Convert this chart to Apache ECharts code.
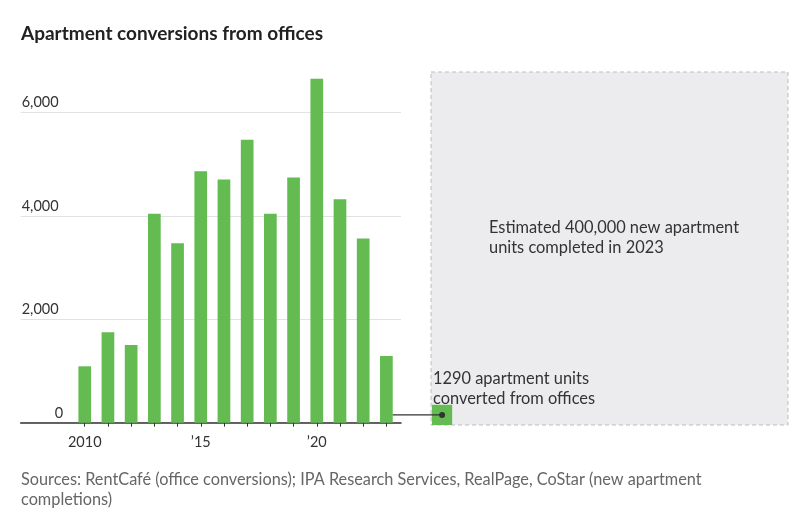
<!DOCTYPE html>
<html>
<head>
<meta charset="utf-8">
<script src="https://cdn.jsdelivr.net/npm/echarts@6/dist/echarts.min.js"></script>
<style>html,body{margin:0;padding:0;background:#fff}#c{width:809px;height:519px}</style>
</head>
<body>
<div id="c"></div>
<script>
var years = [2010,2011,2012,2013,2014,2015,2016,2017,2018,2019,2020,2021,2022,2023];
var conversions = [1090,1750,1500,4040,3470,4860,4700,5470,4040,4740,6650,4320,3560,1290];
var yTicks = [0,2000,4000,6000];
var xLabelYears = [2010,2015,2020];
var newUnits2023 = 400000;
var converted2023 = 1290;

var FONT = 'Lato';
var chart = echarts.init(document.getElementById('c'));
var barW = 12.7;

chart.setOption({
  animation: false,
  textStyle: {fontFamily: FONT},
  title: [
    {text: 'Apartment conversions from offices', left: 21, top: 24, padding: 0,
     textStyle: {fontFamily: FONT, fontSize: 19, fontWeight: 'bold', color: '#222'}},
    {text: 'Sources: RentCafé (office conversions); IPA Research Services, RealPage, CoStar (new apartment\ncompletions)',
     left: 21, top: 470, padding: 0,
     textStyle: {fontFamily: FONT, fontSize: 16.3, fontWeight: 'normal', color: '#666', lineHeight: 20}}
  ],
  grid: [
    {left: 20.7, right: 408, top: 112.3, bottom: 96.3},
    {left: 431, top: 72, width: 357, height: 353}
  ],
  xAxis: [
    {type: 'value', gridIndex: 0, min: 2007.24, max: 2023.63,
     axisLine: {show: true, lineStyle: {color: '#333', width: 1.5}},
     axisTick: {show: true, length: 4, customValues: years, lineStyle: {color: '#333'}},
     axisLabel: {customValues: xLabelYears, color: '#333', fontSize: 14.5, margin: 12,
       formatter: function (v) { return v === 2010 ? '2010' : '\u2019' + String(v).slice(2); }},
     splitLine: {show: false}},
    {type: 'value', gridIndex: 1, min: 0, max: 1, show: false}
  ],
  yAxis: [
    {type: 'value', gridIndex: 0, min: 0, max: 6000, interval: 2000,
     axisLine: {show: false}, axisTick: {show: false},
     axisLabel: {inside: true, margin: 1, color: '#333', fontSize: 14.5, verticalAlign: 'bottom',
       padding: [0, 0, 2, 0],
       formatter: function (v) { return v === 0 ? '{z|0}' : echarts.format.addCommas(v); },
       rich: {z: {padding: [0, 0, 0, 33], fontSize: 14.5, color: '#333'}}},
     splitLine: {show: true, lineStyle: {color: '#e2e2e2', width: 1}}},
    {type: 'value', gridIndex: 1, min: 0, max: 1, show: false}
  ],
  series: [
    {type: 'bar', xAxisIndex: 0, yAxisIndex: 0, barWidth: barW, clip: false,
     itemStyle: {color: '#63bb52'},
     data: years.map(function (y, i) { return [y, conversions[i]]; })},
    {type: 'custom', xAxisIndex: 1, yAxisIndex: 1, z: 1,
     data: [[newUnits2023, converted2023]],
     renderItem: function (params, api) {
       var tl = api.coord([0, 1]);
       var br = api.coord([1, 0]);
       var w = br[0] - tl[0], h = br[1] - tl[1];
       var side = Math.sqrt(w * h * api.value(1) / api.value(0));
       return {type: 'group', children: [
         {type: 'rect', shape: {x: tl[0], y: tl[1], width: w, height: h},
          style: {fill: '#ececee', stroke: '#bdbdbd', lineWidth: 1, lineDash: [4, 3]}},
         {type: 'rect', shape: {x: tl[0] + 1, y: br[1] - side, width: side, height: side},
          style: {fill: '#63bb52'}}
       ]};
     }}
  ]
});

// connector from the 2023 bar to the square (positions from the library's scales)
var last = years.length - 1;
var barPt = chart.convertToPixel({gridIndex: 0}, [years[last], 0]);
var boxBL = chart.convertToPixel({gridIndex: 1}, [0, 0]);
var boxTR = chart.convertToPixel({gridIndex: 1}, [1, 1]);
var side = Math.sqrt((boxTR[0] - boxBL[0]) * (boxBL[1] - boxTR[1]) * converted2023 / newUnits2023);
var cx = boxBL[0] + 1 + side / 2, cy = boxBL[1] - side / 2;
chart.setOption({
  graphic: [
    {type: 'line', shape: {x1: barPt[0] + barW / 2, y1: cy, x2: cx, y2: cy},
     style: {stroke: '#333', lineWidth: 1.3}, z: 10},
    {type: 'circle', shape: {cx: cx, cy: cy, r: 3}, style: {fill: '#333'}, z: 10},
    {type: 'text', left: 489, top: 218,
     style: {text: 'Estimated 400,000 new apartment\nunits completed in 2023',
       font: '16.4px ' + FONT, fill: '#333', lineHeight: 20}, z: 10},
    {type: 'text', left: 433, top: 369,
     style: {text: '1290 apartment units\nconverted from offices',
       font: '16.4px ' + FONT, fill: '#333', lineHeight: 20}, z: 10}
  ]
});
</script>
</body>
</html>
